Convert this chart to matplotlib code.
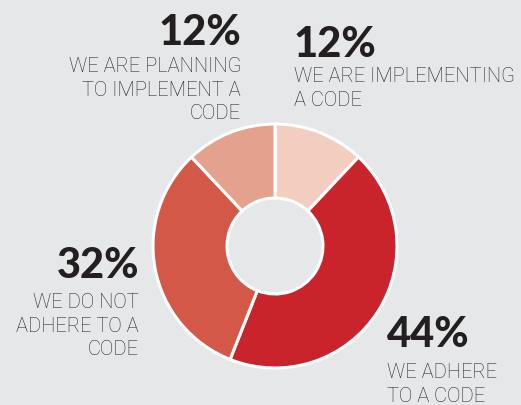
import matplotlib.pyplot as plt

# data
labels = ["WE ARE IMPLEMENTING\nA CODE", "WE ADHERE\nTO A CODE",
          "WE DO NOT\nADHERE TO A\nCODE", "WE ARE PLANNING\nTO IMPLEMENT A\nCODE"]
values = [12, 44, 32, 12]
colors = ["#f2cdc0", "#c9232c", "#d35847", "#e4a18d"]

W, H = 521, 405
fig = plt.figure(figsize=(W / 100, H / 100), dpi=100, facecolor="#e6e7e8")
ax = fig.add_axes([0, 0, 1, 1])
ax.set_facecolor("#e6e7e8")

ax.pie(values, colors=colors, startangle=90, counterclock=False,
       center=(275, H - 246), radius=122,
       wedgeprops=dict(width=74, edgecolor="white", linewidth=2.2))
ax.set_xlim(0, W)
ax.set_ylim(0, H)
ax.set_aspect("equal")
ax.axis("off")

dark = "#231f20"
pct_kw = dict(fontsize=30, fontweight="black", color=dark, family="Lato", va="baseline")
lab_kw = dict(fontsize=14.5, fontweight="light", color="#262626", family="Roboto",
              va="baseline")

# (x, pct baseline, label first baseline, align) in pixel coords from top
places = [(294, 57, 82, "left"), (387, 347, 378, "left"),
          (139, 278, 308, "right"), (241, 45, 72, "right")]

for (x, yp, yl, ha), v, lab in zip(places, values, labels):
    ax.text(x, H - yp, f"{v}%", ha=ha, **pct_kw)
    for i, line in enumerate(lab.split("\n")):
        ax.text(x, H - yl - i * 23.5, line, ha=ha, **lab_kw)

fig.savefig("out.png", dpi=100, facecolor=fig.get_facecolor())
